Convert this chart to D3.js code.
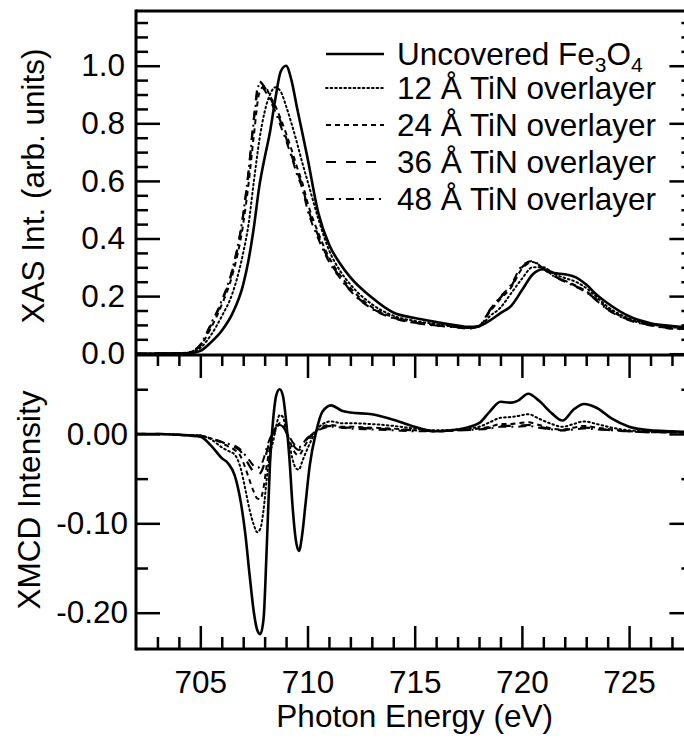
<!DOCTYPE html>
<html><head><meta charset="utf-8">
<script src="https://cdn.jsdelivr.net/npm/d3@7"></script>
<style>
body{margin:0;background:#fff;}
svg{display:block;font-family:"Liberation Sans",Arial,Helvetica,sans-serif;}
</style></head><body>
<svg id="chart" width="684" height="745"></svg>
<script>
// ---------------- DATA ----------------
const xasEnergy = [702, 704, 704.5, 705, 705.5, 706, 706.5, 707, 707.25, 707.5,
  707.75, 708, 708.25, 708.5, 708.75, 709, 709.25, 709.5, 709.75, 710,
  710.5, 711, 711.5, 712, 713, 714, 715, 716, 717, 717.5,
  718, 718.5, 719, 719.5, 720, 720.5, 721, 721.5, 722, 722.5,
  723, 723.5, 724, 725, 726, 727, 728];
const xasUncovered = [0, 0.001, 0.002, 0.010, 0.04, 0.08, 0.14, 0.24, 0.325, 0.44,
  0.58, 0.68, 0.77, 0.885, 0.98, 1.0, 0.95, 0.858, 0.77, 0.68,
  0.49, 0.38, 0.315, 0.265, 0.195, 0.143, 0.124, 0.110, 0.098, 0.093,
  0.096, 0.115, 0.141, 0.166, 0.22, 0.275, 0.293, 0.28, 0.276, 0.266,
  0.24, 0.204, 0.175, 0.13, 0.106, 0.096, 0.09];
const xas12 = [0, 0.001, 0.004, 0.02, 0.065, 0.13, 0.21, 0.35, 0.45, 0.60,
  0.74, 0.84, 0.90, 0.925, 0.91, 0.86, 0.80, 0.735, 0.665, 0.60,
  0.47, 0.36, 0.29, 0.24, 0.172, 0.132, 0.114, 0.103, 0.095, 0.09,
  0.094, 0.13, 0.16, 0.21, 0.26, 0.30, 0.30, 0.277, 0.263, 0.25,
  0.228, 0.195, 0.163, 0.122, 0.102, 0.092, 0.088];
const xas24 = [0, 0.001, 0.005, 0.028, 0.09, 0.17, 0.275, 0.45, 0.59, 0.76,
  0.905, 0.93, 0.895, 0.86, 0.815, 0.765, 0.71, 0.65, 0.595, 0.525,
  0.42, 0.335, 0.275, 0.228, 0.162, 0.127, 0.11, 0.1, 0.093, 0.089,
  0.095, 0.145, 0.19, 0.23, 0.295, 0.318, 0.296, 0.27, 0.254, 0.237,
  0.217, 0.187, 0.157, 0.119, 0.1, 0.089, 0.086];
const xas36 = [0, 0.001, 0.005, 0.03, 0.10, 0.18, 0.29, 0.48, 0.63, 0.82,
  0.945, 0.925, 0.89, 0.85, 0.805, 0.75, 0.69, 0.635, 0.585, 0.51,
  0.41, 0.325, 0.268, 0.22, 0.158, 0.125, 0.108, 0.098, 0.092, 0.088,
  0.095, 0.15, 0.195, 0.235, 0.30, 0.32, 0.295, 0.27, 0.252, 0.235,
  0.215, 0.185, 0.155, 0.118, 0.1, 0.088, 0.085];
const xas48 = [0, 0.001, 0.006, 0.032, 0.105, 0.185, 0.295, 0.485, 0.635, 0.81,
  0.935, 0.915, 0.88, 0.84, 0.79, 0.74, 0.685, 0.625, 0.575, 0.5,
  0.4, 0.32, 0.264, 0.218, 0.156, 0.123, 0.107, 0.097, 0.091, 0.087,
  0.096, 0.152, 0.198, 0.24, 0.305, 0.322, 0.294, 0.268, 0.25, 0.233,
  0.213, 0.183, 0.153, 0.116, 0.098, 0.087, 0.084];

const xmcdEnergy = [702, 703, 704, 705, 705.5, 706, 706.3, 706.6, 706.9, 707.1,
  707.3, 707.5, 707.65, 707.8, 707.95, 708.1, 708.25, 708.4, 708.55, 708.7,
  708.85, 709.0, 709.15, 709.3, 709.45, 709.6, 709.75, 709.9, 710.1, 710.4,
  710.7, 711.1, 711.6, 712, 713, 714, 715, 716, 717, 718,
  718.5, 719, 719.5, 719.8, 720.3, 720.8, 721.4, 721.9, 722.4, 722.9,
  723.5, 724.2, 725, 726, 727, 728];
const xmcdUncovered = [0, 0, -0.001, -0.003, -0.013, -0.027, -0.033, -0.046, -0.078, -0.112,
  -0.158, -0.200, -0.219, -0.224, -0.207, -0.126, -0.033, 0.017, 0.044, 0.050,
  0.043, 0.015, -0.025, -0.080, -0.118, -0.131, -0.113, -0.080, -0.036, 0.002,
  0.025, 0.032, 0.026, 0.024, 0.022, 0.016, 0.008, 0.003, 0.005, 0.012,
  0.025, 0.036, 0.035, 0.037, 0.045, 0.037, 0.023, 0.015, 0.027, 0.0335,
  0.029, 0.017, 0.008, 0.004, 0.003, 0.002];
const xmcd12 = [0, 0, -0.001, -0.002, -0.006, -0.015, -0.019, -0.023, -0.040, -0.062,
  -0.085, -0.102, -0.110, -0.106, -0.085, -0.050, -0.022, -0.008, 0.010, 0.021,
  0.019, 0.004, -0.011, -0.028, -0.038, -0.040, -0.031, -0.022, -0.011, 0.003,
  0.011, 0.014, 0.012, 0.012, 0.011, 0.009, 0.006, 0.004, 0.005, 0.008,
  0.013, 0.018, 0.019, 0.020, 0.022, 0.017, 0.011, 0.008, 0.011, 0.014,
  0.011, 0.007, 0.004, 0.003, 0.002, 0.002];
const xmcd24 = [0, 0, -0.001, -0.002, -0.005, -0.010, -0.014, -0.018, -0.026, -0.038,
  -0.052, -0.065, -0.072, -0.073, -0.060, -0.035, -0.015, -0.003, 0.006, 0.012,
  0.010, 0.002, -0.006, -0.016, -0.022, -0.024, -0.019, -0.012, -0.005, 0.003,
  0.008, 0.010, 0.008, 0.008, 0.007, 0.006, 0.004, 0.003, 0.004, 0.006,
  0.008, 0.011, 0.011, 0.012, 0.013, 0.010, 0.006, 0.005, 0.007, 0.009,
  0.007, 0.005, 0.003, 0.002, 0.002, 0.002];
const xmcd36 = [0, 0, -0.001, -0.002, -0.005, -0.009, -0.012, -0.015, -0.020, -0.028,
  -0.036, -0.043, -0.046, -0.044, -0.036, -0.020, -0.008, 0.002, 0.008, 0.011,
  0.009, 0.002, -0.004, -0.011, -0.016, -0.018, -0.014, -0.008, -0.003, 0.003,
  0.007, 0.009, 0.007, 0.007, 0.006, 0.005, 0.004, 0.003, 0.004, 0.005,
  0.007, 0.009, 0.009, 0.009, 0.010, 0.008, 0.005, 0.004, 0.006, 0.007,
  0.006, 0.004, 0.003, 0.002, 0.002, 0.002];
const xmcd48 = [0, 0, -0.001, -0.002, -0.005, -0.009, -0.011, -0.013, -0.018, -0.024,
  -0.030, -0.036, -0.038, -0.036, -0.028, -0.015, -0.005, 0.003, 0.008, 0.010,
  0.008, 0.002, -0.003, -0.009, -0.013, -0.015, -0.012, -0.007, -0.002, 0.003,
  0.006, 0.008, 0.007, 0.006, 0.005, 0.004, 0.003, 0.003, 0.004, 0.005,
  0.006, 0.008, 0.008, 0.008, 0.009, 0.007, 0.005, 0.004, 0.005, 0.006,
  0.005, 0.004, 0.003, 0.002, 0.002, 0.002];

const legendLabels = ["Uncovered Fe3O4", "12 Å TiN overlayer", "24 Å TiN overlayer",
  "36 Å TiN overlayer", "48 Å TiN overlayer"];
const xTickValues = [705, 710, 715, 720, 725];
const xasTickValues = [0.0, 0.2, 0.4, 0.6, 0.8, 1.0];
const xmcdTickValues = [-0.20, -0.10, 0.00];
const xTitle = "Photon Energy (eV)";
const xasTitle = "XAS Int. (arb. units)";
const xmcdTitle = "XMCD Intensity";

// ---------------- LAYOUT ----------------
const pL = 136, pR = 693.4, pT = 11, pM = 355, pB = 649;
const FONT = 31.5;
const FAM = '"Liberation Sans", Arial, Helvetica, sans-serif';
const svg = d3.select("#chart");

const x = d3.scaleLinear().domain([702, 728]).range([pL, pR]);
const yXas = d3.scaleLinear().domain([-0.0045, 1.19]).range([pM, pT]);
const yXmcd = d3.scaleLinear().domain([-0.2406, 0.0883]).range([pB, pM]);

const styles = [
  {dash: null, width: 2.6},
  {dash: "1.6,3", width: 2},
  {dash: "5,4", width: 2},
  {dash: "10,10", width: 2.2},
  {dash: "8,5,2,5", width: 2}
];

const defs = svg.append("defs");
defs.append("clipPath").attr("id", "clipTop").append("rect")
  .attr("x", pL).attr("y", pT).attr("width", pR - pL).attr("height", pM - pT);
defs.append("clipPath").attr("id", "clipBot").append("rect")
  .attr("x", pL).attr("y", pM).attr("width", pR - pL).attr("height", pB - pM);

const xasSeries = [xasUncovered, xas12, xas24, xas36, xas48];
const xmcdSeries = [xmcdUncovered, xmcd12, xmcd24, xmcd36, xmcd48];

const lineXas = d3.line().x(d => x(d[0])).y(d => yXas(d[1])).curve(d3.curveMonotoneX);
const lineXmcd = d3.line().x(d => x(d[0])).y(d => yXmcd(d[1])).curve(d3.curveMonotoneX);

const gTop = svg.append("g").attr("clip-path", "url(#clipTop)");
xasSeries.forEach((vals, i) => {
  gTop.append("path")
    .attr("d", lineXas(xasEnergy.map((e, j) => [e, vals[j]])))
    .attr("fill", "none").attr("stroke", "#000")
    .attr("stroke-width", styles[i].width)
    .attr("stroke-dasharray", styles[i].dash)
    .attr("stroke-linecap", i === 1 ? "round" : "butt");
});
const gBot = svg.append("g").attr("clip-path", "url(#clipBot)");
xmcdSeries.forEach((vals, i) => {
  gBot.append("path")
    .attr("d", lineXmcd(xmcdEnergy.map((e, j) => [e, vals[j]])))
    .attr("fill", "none").attr("stroke", "#000")
    .attr("stroke-width", styles[i].width)
    .attr("stroke-dasharray", styles[i].dash)
    .attr("stroke-linecap", i === 1 ? "round" : "butt");
});

function styleAxis(g) {
  g.select(".domain").remove();
  g.selectAll("line").attr("stroke", "#000").attr("stroke-width", 2.5);
  g.selectAll("text").attr("font-size", FONT).attr("fill", "#000").attr("font-family", FAM);
}
const none = () => "";
const xMinor = d3.range(703, 728).filter(v => v % 5 !== 0);
const xasMinor = d3.range(0, 24).filter(i => i % 4 !== 0).map(i => i * 0.05);
const xmcdMinor = [-0.15, -0.05, 0.05];

svg.append("g").attr("transform", `translate(${pL},0)`)
  .call(d3.axisLeft(yXas).tickValues(xasTickValues).tickSize(-24).tickSizeOuter(0)
    .tickPadding(11).tickFormat(d => d.toFixed(1))).call(styleAxis);
svg.append("g").attr("transform", `translate(${pL},0)`)
  .call(d3.axisLeft(yXas).tickValues(xasMinor).tickSize(-12).tickSizeOuter(0).tickFormat(none)).call(styleAxis);
svg.append("g").attr("transform", `translate(${pR},0)`)
  .call(d3.axisRight(yXas).tickValues(xasTickValues).tickSize(-24).tickSizeOuter(0).tickFormat(none)).call(styleAxis);
svg.append("g").attr("transform", `translate(${pR},0)`)
  .call(d3.axisRight(yXas).tickValues(xasMinor).tickSize(-12).tickSizeOuter(0).tickFormat(none)).call(styleAxis);

svg.append("g").attr("transform", `translate(${pL},0)`)
  .call(d3.axisLeft(yXmcd).tickValues(xmcdTickValues).tickSize(-24).tickSizeOuter(0)
    .tickPadding(8).tickFormat(d => d.toFixed(2))).call(styleAxis);
svg.append("g").attr("transform", `translate(${pL},0)`)
  .call(d3.axisLeft(yXmcd).tickValues(xmcdMinor).tickSize(-12).tickSizeOuter(0).tickFormat(none)).call(styleAxis);
svg.append("g").attr("transform", `translate(${pR},0)`)
  .call(d3.axisRight(yXmcd).tickValues(xmcdTickValues).tickSize(-24).tickSizeOuter(0).tickFormat(none)).call(styleAxis);
svg.append("g").attr("transform", `translate(${pR},0)`)
  .call(d3.axisRight(yXmcd).tickValues(xmcdMinor).tickSize(-12).tickSizeOuter(0).tickFormat(none)).call(styleAxis);

svg.append("g").attr("transform", `translate(0,${pM})`)
  .call(d3.axisTop(x).tickValues(xTickValues).tickSize(-23).tickSizeOuter(0).tickFormat(none)).call(styleAxis);
svg.append("g").attr("transform", `translate(0,${pM})`)
  .call(d3.axisTop(x).tickValues(xMinor).tickSize(-11).tickSizeOuter(0).tickFormat(none)).call(styleAxis);
svg.append("g").attr("transform", `translate(0,${pB})`)
  .call(d3.axisBottom(x).tickValues(xTickValues).tickSize(-23).tickSizeOuter(0)
    .tickPadding(22).tickFormat(d => String(d))).call(styleAxis);
svg.append("g").attr("transform", `translate(0,${pB})`)
  .call(d3.axisBottom(x).tickValues(xMinor).tickSize(-12).tickSizeOuter(0).tickFormat(none)).call(styleAxis);

const frame = svg.append("g").attr("stroke", "#000").attr("stroke-width", 3).attr("fill", "none");
frame.append("line").attr("x1", pL).attr("x2", pL).attr("y1", pT - 1.5).attr("y2", pB + 1.5);
frame.append("line").attr("x1", pL).attr("x2", pR).attr("y1", pT).attr("y2", pT);
frame.append("line").attr("x1", pL).attr("x2", pR).attr("y1", pM).attr("y2", pM);
frame.append("line").attr("x1", pL).attr("x2", pR).attr("y1", pB).attr("y2", pB);
frame.append("line").attr("x1", pR).attr("x2", pR).attr("y1", pT).attr("y2", pB);

svg.append("text").attr("transform", `translate(44,${(pT + pM) / 2 + 3}) rotate(-90)`)
  .attr("text-anchor", "middle").attr("font-size", FONT).attr("font-family", FAM).text(xasTitle);
svg.append("text").attr("transform", `translate(40,${(pM + pB) / 2 - 2}) rotate(-90)`)
  .attr("text-anchor", "middle").attr("font-size", FONT).attr("font-family", FAM).text(xmcdTitle);
svg.append("text").attr("x", (pL + pR) / 2).attr("y", 727)
  .attr("text-anchor", "middle").attr("font-size", FONT).attr("font-family", FAM).text(xTitle);

// legend: main text with subscript tspans
const leg = svg.append("g");
legendLabels.forEach((label, i) => {
  const yb = i === 0 ? 65 : 62 + 37 * i;
  leg.append("line").attr("x1", 326).attr("x2", 384).attr("y1", yb - 11).attr("y2", yb - 11)
    .attr("stroke", "#000").attr("stroke-width", styles[i].width)
    .attr("stroke-dasharray", styles[i].dash)
    .attr("stroke-linecap", i === 1 ? "round" : "butt");
  const t = leg.append("text").attr("x", 397).attr("y", yb)
    .attr("font-size", FONT).attr("font-family", FAM);
  const parts = label.split(/(?<=[A-Za-z])(\d)/);
  let shifted = false;
  parts.forEach((p, k) => {
    if (p === "") return;
    if (k % 2 === 1) {
      t.append("tspan").attr("font-size", 21).attr("dy", 7).text(p);
      shifted = true;
    } else {
      const ts = t.append("tspan").text(p);
      if (shifted) { ts.attr("dy", -7); shifted = false; }
    }
  });
});
</script>
</body></html>
